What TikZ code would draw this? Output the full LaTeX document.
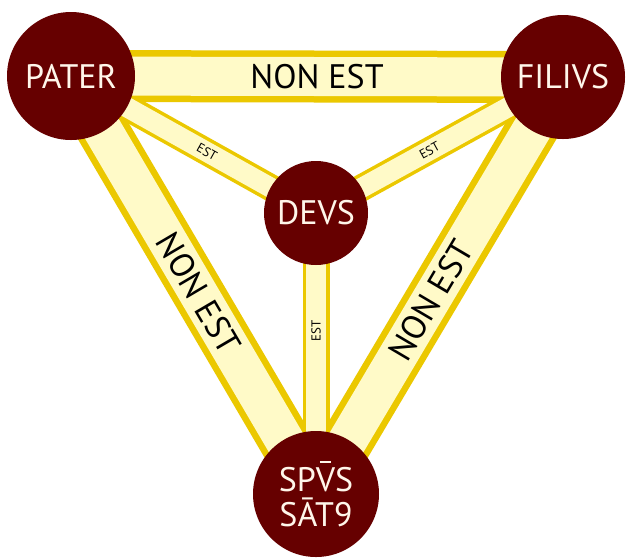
\documentclass[tikz,border=0pt]{standalone}
\usepackage{fontspec}
\setmainfont{PT Sans}
\usetikzlibrary{backgrounds}
\definecolor{maroon}{HTML}{660000}
\definecolor{bandedge}{HTML}{EBC800}
\definecolor{bandfill}{HTML}{FFFAC8}
\definecolor{cream}{HTML}{FFF6EA}
\newcommand{\macrV}{\makebox[0pt][l]{\hspace{0.12em}\rule[0.84em]{0.33em}{0.06em}}V}
\tikzset{
  person/.style={circle, fill=maroon, text=cream, inner sep=0pt, font=\fontsize{34}{36}\selectfont},
  outeredge/.style={draw=bandedge, line width=52pt},
  outerfill/.style={draw=bandfill, line width=39pt},
  inneredge/.style={draw=bandedge, line width=27pt},
  innerfill/.style={draw=bandfill, line width=20pt},
  biglabel/.style={text=black, inner sep=0pt, font=\fontsize{34}{36}\selectfont},
  smalllabel/.style={text=black, inner sep=0pt, font=\fontsize{13}{14}\selectfont}
}
\begin{document}
\begin{tikzpicture}[x=1pt,y=-1pt]
\useasboundingbox (0,0) rectangle (626,558);
\node[person, minimum size=128pt] (pater) at (71,76) {PATER};
\node[person, minimum size=124pt] (filivs) at (563,77) {FILIVS};
\node[person, minimum size=104pt] (devs) at (316,213) {DEVS};
\node[person, minimum size=126pt, align=center, font=\fontsize{34}{35}\selectfont] (spvs) at (316,494) {SP\macrV S\\SĀT9};
\begin{scope}[on background layer]
  \fill[white] (0,0) rectangle (626,558);
  \draw[outeredge] (pater.center) -- (filivs.center);
  \draw[outeredge] (pater.center) -- (spvs.center);
  \draw[outeredge] (spvs.center) -- (filivs.center);
  \draw[inneredge] (pater.center) -- (devs.center);
  \draw[inneredge] (devs.center) -- (filivs.center);
  \draw[inneredge] (devs.center) -- (spvs.center);
  \draw[outerfill] (pater.center) -- (filivs.center);
  \draw[outerfill] (pater.center) -- (spvs.center);
  \draw[outerfill] (spvs.center) -- (filivs.center);
  \draw[innerfill] (pater.center) -- (devs.center);
  \draw[innerfill] (devs.center) -- (filivs.center);
  \draw[innerfill] (devs.center) -- (spvs.center);
  \path (pater.center) -- (filivs.center) node[biglabel, pos=0.5] (l1) {NON EST};
  \path (pater.center) -- (spvs.center) node[biglabel, pos=0.52, rotate=-59.6] (l2) {NON EST};
  \path (spvs.center) -- (filivs.center) node[biglabel, pos=0.465, rotate=59.4] (l3) {NON EST};
  \path (pater.center) -- (devs.center) node[smalllabel, pos=0.555, rotate=-29.2] (l4) {EST};
  \path (devs.center) -- (filivs.center) node[smalllabel, pos=0.46, rotate=28.8] (l5) {EST};
  \path (devs.center) -- (spvs.center) node[smalllabel, pos=0.42, rotate=90] (l6) {EST};
\end{scope}
\end{tikzpicture}
\end{document}
